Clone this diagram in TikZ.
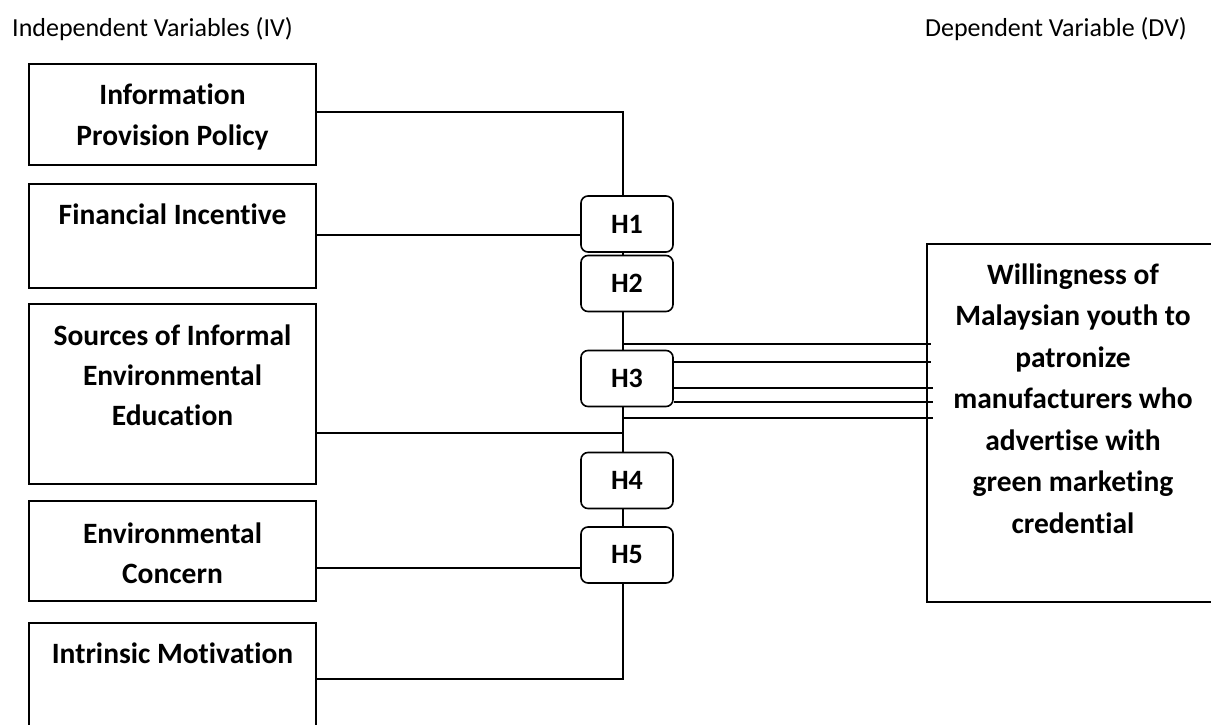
\documentclass[tikz,border=0pt]{standalone}
\usepackage{fontspec}
\setmainfont{Carlito}[Ligatures=NoCommon]
\begin{document}
\begin{tikzpicture}[x=1pt,y=-1pt,
  box/.style={draw=black, line width=1.3pt, rectangle, inner sep=0pt},
  hbox/.style={draw=black, line width=1.6pt, rectangle, rounded corners=7pt, minimum width=92pt, minimum height=56pt, inner sep=0pt, font=\fontsize{28}{30}\selectfont\bfseries},
  lbl/.style={align=center, inner sep=0pt, font=\fontsize{29.5}{40}\selectfont\bfseries},
  dvlbl/.style={align=center, inner sep=0pt, font=\fontsize{29.5}{41.5}\selectfont\bfseries},
  ttl/.style={inner sep=0pt, anchor=base west, font=\fontsize{26}{30}\selectfont},
  conn/.style={line width=1.5pt}]
\useasboundingbox (0,0) rectangle (1211,725);
% titles
\node[ttl] (tiv) at (12,37) {Independent Variables (IV)};
\node[ttl, anchor=base east] (tdv) at (1187,37) {Dependent Variable (DV)};
% IV boxes
\node[box, minimum width=287pt, minimum height=101pt] (b1) at (172.5,114.5) {};
\node[box, minimum width=287pt, minimum height=104pt] (b2) at (172.5,236) {};
\node[box, minimum width=287pt, minimum height=180pt] (b3) at (172.5,394) {};
\node[box, minimum width=287pt, minimum height=100pt] (b4) at (172.5,551) {};
\coordinate (b5tl) at (29,623);
\coordinate (b5tr) at (316,623);
\draw[line width=1.3pt] (29,735) -- (b5tl) -- (b5tr) -- (316,735);
\node[lbl, anchor=base] (t1) at (172.5,145) {Information\\Provision Policy};
\node[lbl, anchor=base] (t2) at (172.5,224) {Financial Incentive};
\node[lbl, anchor=base] (t3) at (172.5,425) {Sources of Informal\\Environmental\\Education};
\node[lbl, anchor=base] (t4) at (172.5,583) {Environmental\\Concern};
\node[lbl, anchor=base] (t5) at (172.5,663) {Intrinsic Motivation};
% DV box
\draw[line width=1.3pt] (1215,244) -- (927,244) -- (927,602) -- (1215,602);
\node[dvlbl, anchor=base] (tdvt) at (1073,533) {Willingness of\\Malaysian youth to\\patronize\\manufacturers who\\advertise with\\green marketing\\credential};
% H boxes
\node[hbox] (h1) at (627,224) {H1};
\node[hbox] (h2) at (627,283.5) {H2};
\node[hbox] (h3) at (627,378.5) {H3};
\node[hbox] (h4) at (627,480.5) {H4};
\node[hbox] (h5) at (627,555) {H5};
\coordinate (sp) at (623,0);
% connectors
\draw[conn] (b1.east |- 0,112) -| (h1.north -| sp);
\draw[conn] (b2.east |- 0,235) -- (h1.west |- 0,235);
\draw[conn] (h1.south -| sp) -- (h2.north -| sp);
\draw[conn] (h2.south -| sp) -- (h3.north -| sp);
\draw[conn] (sp |- 0,344) -- (931,344);
\draw[conn] (h3.east |- 0,362) -- (931,362);
\draw[conn] (h3.east |- 0,388) -- (933,388);
\draw[conn] (h3.east |- 0,402) -- (933,402);
\draw[conn] (sp |- 0,418) -- (933,418);
\draw[conn] (b3.east |- 0,433) -- (sp |- 0,433);
\draw[conn] (h3.south -| sp) -- (h4.north -| sp);
\draw[conn] (h4.south -| sp) -- (h5.north -| sp);
\draw[conn] (b4.east |- 0,568) -- (h5.west |- 0,568);
\draw[conn] (h5.south -| sp) |- (b5tr |- 0,679);
\end{tikzpicture}
\end{document}
